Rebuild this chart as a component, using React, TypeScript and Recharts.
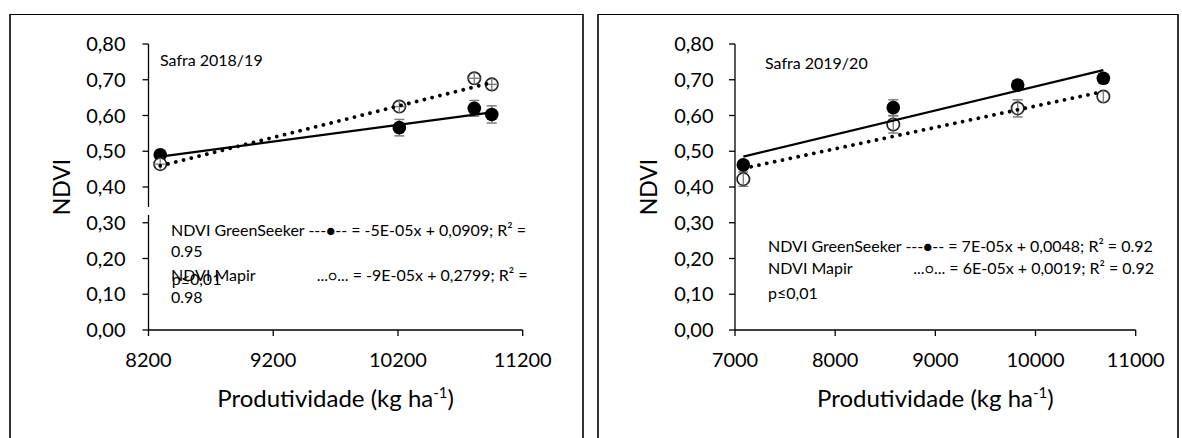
import { ScatterChart, Scatter, XAxis, YAxis, ErrorBar, Label } from "recharts"

const FONT = "Lato, 'Open Sans', sans-serif"

// Safra 2018/19
const prod1819 = [8294, 10211, 10812, 10952]
const gs1819 = [0.49, 0.566, 0.62, 0.603]
const gsErr1819 = [0.012, 0.023, 0.022, 0.024]
const mapir1819 = [0.464, 0.625, 0.704, 0.687]
const mapirErr1819 = [0.01, 0.01, 0.01, 0.01]
const gsTrend1819 = [0.485, 0.609]
const mapirTrend1819 = [0.459, 0.692]
const xTicks1819 = [8200, 9200, 10200, 11200]

// Safra 2019/20
const prod1920 = [7083, 8580, 9822, 10677]
const gs1920 = [0.462, 0.622, 0.685, 0.704]
const gsErr1920 = [0.01, 0.022, 0.012, 0.012]
const mapir1920 = [0.422, 0.575, 0.62, 0.653]
const mapirErr1920 = [0.02, 0.024, 0.024, 0.01]
const gsTrend1920 = [0.485, 0.727]
const mapirTrend1920 = [0.452, 0.667]
const xTicks1920 = [7000, 8000, 9000, 10000, 11000]

const yTicks = [0, 0.1, 0.2, 0.3, 0.4, 0.5, 0.6, 0.7, 0.8]

const points = (xs: number[], ys: number[], errs: number[]) =>
  xs.map((x, i) => ({ x, y: ys[i], err: errs[i] }))

const trend = (xs: number[], ends: number[]) => [
  { x: xs[0], y: ends[0] },
  { x: xs[xs.length - 1], y: ends[1] },
]

const FilledDot = (p: any) => <circle cx={p.cx} cy={p.cy} r={6.8} fill="#000" />

const makeOpenDot = (cross: boolean) => (p: any) => {
  const r = 6.2
  return (
    <g>
      <circle cx={p.cx} cy={p.cy} r={r} fill="#fff" stroke="#262626" strokeWidth={1.7} />
      <line x1={p.cx} x2={p.cx} y1={p.cy - r} y2={p.cy + r} stroke="#7f7f7f" strokeWidth={1.4} />
      {cross && (
        <line x1={p.cx - r} x2={p.cx + r} y1={p.cy} y2={p.cy} stroke="#7f7f7f" strokeWidth={1.4} />
      )}
    </g>
  )
}

const NoDot = () => <g />

interface PanelProps {
  left: number
  width: number
  plotLeft: number
  plotRight: number
  domain: [number, number]
  xTicks: number[]
  gs: { x: number; y: number; err: number }[]
  mapir: { x: number; y: number; err: number }[]
  gsLine: { x: number; y: number }[]
  mapirLine: { x: number; y: number }[]
  cross: boolean
  yTickMargin: number
  yTitleX: number
}

function Panel(props: PanelProps) {
  const H = 438
  const axisStyle = { stroke: "#000", strokeWidth: 1.3 }
  const tickStyle = { fontSize: 20, fill: "#000", fontFamily: FONT }

  const xTitle = (lp: any) => {
    const vb = lp.viewBox
    const cx = vb.x + vb.width / 2
    return (
      <text x={cx} y={vb.y + 77} textAnchor="middle" fontSize={24} fontFamily={FONT} fill="#000">
        Produtividade (kg ha
        <tspan fontSize={15} dy={-9}>-1</tspan>
        <tspan dy={9}>)</tspan>
      </text>
    )
  }

  const yTitle = (lp: any) => {
    const vb = lp.viewBox
    const cy = vb.y + vb.height / 2
    const cx = props.yTitleX
    return (
      <text
        x={cx}
        y={cy}
        transform={`rotate(-90 ${cx} ${cy})`}
        textAnchor="middle"
        dominantBaseline="central"
        fontSize={23}
        fontFamily={FONT}
        fill="#000"
      >
        NDVI
      </text>
    )
  }

  return (
    <div style={{ position: "absolute", left: props.left, top: 0 }}>
      <ScatterChart
        width={props.width}
        height={H}
        margin={{ top: 44, right: props.width - props.plotRight, left: 0, bottom: 38 }}
      >
        <XAxis
          type="number"
          dataKey="x"
          domain={props.domain}
          ticks={props.xTicks}
          height={70}
          axisLine={axisStyle}
          tickLine={axisStyle}
          tickSize={6}
          tickMargin={17}
          tick={tickStyle}
          interval={0}
        >
          <Label content={xTitle} />
        </XAxis>
        <YAxis
          type="number"
          dataKey="y"
          domain={[0, 0.8]}
          ticks={yTicks}
          width={props.plotLeft}
          axisLine={axisStyle}
          tickLine={axisStyle}
          tickSize={6}
          tickMargin={props.yTickMargin}
          tick={tickStyle}
          interval={0}
          tickFormatter={(v: number) => v.toFixed(2).replace(".", ",")}
        >
          <Label content={yTitle} />
        </YAxis>
        <Scatter data={props.gs} shape={FilledDot} isAnimationActive={false}>
          <ErrorBar dataKey="err" direction="y" width={5} stroke="#7f7f7f" strokeWidth={1.5} />
        </Scatter>
        <Scatter data={props.mapir} shape={makeOpenDot(props.cross)} isAnimationActive={false}>
          <ErrorBar dataKey="err" direction="y" width={5} stroke="#7f7f7f" strokeWidth={1.5} />
        </Scatter>
        <Scatter
          data={props.gsLine}
          shape={NoDot}
          line={{ stroke: "#000", strokeWidth: 2.3 }}
          isAnimationActive={false}
        />
        <Scatter
          data={props.mapirLine}
          shape={NoDot}
          line={{ stroke: "#000", strokeWidth: 3.8, strokeDasharray: "0.01 8", strokeLinecap: "round" }}
          isAnimationActive={false}
        />
      </ScatterChart>
    </div>
  )
}

const txt = (x: number, cy: number, s: React.ReactNode, key: string) => (
  <div
    key={key}
    style={{
      position: "absolute",
      left: x,
      top: cy - 10.4,
      fontFamily: FONT,
      fontSize: 16,
      lineHeight: "20px",
      whiteSpace: "pre",
      color: "#000",
    }}
  >
    {s}
  </div>
)

const dotF = <span style={{ fontSize: 15 }}>●</span>
const dotO = <span style={{ fontSize: 14 }}>○</span>

export default function App() {
  const frame = (l: number, r: number) => ({
    position: "absolute" as const,
    left: l,
    top: 14,
    width: r - l,
    height: 440,
    borderTop: "1px solid #000",
    borderLeft: "2px solid #333",
    borderRight: "2px solid #333",
    boxSizing: "border-box" as const,
  })

  return (
    <div style={{ position: "absolute", left: 0, top: 0, width: 1182, height: 438, overflow: "hidden", background: "#fff" }}>
      <div style={frame(9, 584)} />
      <div style={frame(597, 1179)} />
      <Panel
        left={0}
        width={590}
        plotLeft={148.5}
        plotRight={522.7}
        domain={[8200, 11200]}
        xTicks={xTicks1819}
        gs={points(prod1819, gs1819, gsErr1819)}
        mapir={points(prod1819, mapir1819, mapirErr1819)}
        gsLine={trend(prod1819, gsTrend1819)}
        mapirLine={trend(prod1819, mapirTrend1819)}
        cross={true}
        yTickMargin={17}
        yTitleX={61}
      />
      <Panel
        left={590}
        width={592}
        plotLeft={145}
        plotRight={545.7}
        domain={[7000, 11000]}
        xTicks={xTicks1920}
        gs={points(prod1920, gs1920, gsErr1920)}
        mapir={points(prod1920, mapir1920, mapirErr1920)}
        gsLine={trend(prod1920, gsTrend1920)}
        mapirLine={trend(prod1920, mapirTrend1920)}
        cross={false}
        yTickMargin={15.5}
        yTitleX={58}
      />
      <div style={{ position: "absolute", left: 146, top: 207, width: 6, height: 8, background: "#fff" }} />
      {txt(160, 60, "Safra 2018/19", "s1")}
      {txt(171, 230, <>NDVI GreenSeeker ---{dotF}-- = -5E-05x + 0,0909; R² =</>, "l1")}
      {txt(171, 251.7, "0.95", "l2")}
      {txt(171, 275, "NDVI Mapir", "l3")}
      {txt(316.7, 275, <>...{dotO}... = -9E-05x + 0,2799; R² =</>, "l4")}
      {txt(171.7, 279, "p≤0,01", "l5")}
      {txt(171, 297.3, "0.98", "l6")}
      {txt(765, 63, "Safra 2019/20", "s2")}
      {txt(768, 246.7, <>NDVI GreenSeeker ---{dotF}-- = 7E-05x + 0,0048; R² = 0.92</>, "r1")}
      {txt(768, 268.3, "NDVI Mapir", "r2")}
      {txt(913.3, 268.3, <>...{dotO}... = 6E-05x + 0,0019; R² = 0.92</>, "r3")}
      {txt(768, 293.3, "p≤0,01", "r4")}
    </div>
  )
}
